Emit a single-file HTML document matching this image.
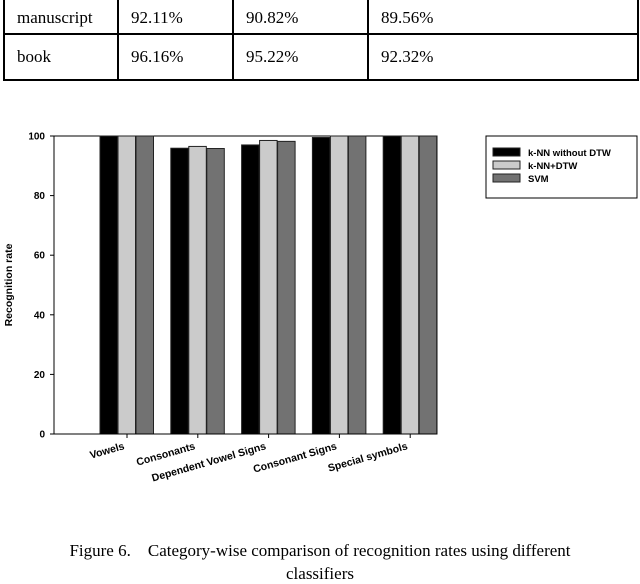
<!DOCTYPE html>
<html><head><meta charset="utf-8"><style>
body{margin:0;width:640px;height:584px;background:#fff;position:relative;overflow:hidden;font-family:"Liberation Serif",serif}
table{position:absolute;left:3px;top:-4px;border-collapse:collapse;font-size:17px}
td{border:2px solid #000;padding:0 0 0 12px;vertical-align:middle}
tr.r1 td{height:31px;padding-top:4px}
tr.r2 td{height:44px}
.cap{position:absolute;left:0;width:640px;text-align:center;font-size:17px}
</style></head><body>
<table>
<tr class="r1"><td style="width:100px">manuscript</td><td style="width:101px">92.11%</td><td style="width:121px">90.82%</td><td style="width:256px">89.56%</td></tr>
<tr class="r2"><td>book</td><td>96.16%</td><td>95.22%</td><td>92.32%</td></tr>
</table>
<svg id="chart" width="640" height="584" style="position:absolute;left:0;top:0" font-family="Liberation Sans, sans-serif" font-weight="bold"></svg>
<div class="cap" style="top:541px">Figure 6.&nbsp;&nbsp;&nbsp; Category-wise comparison of recognition rates using different</div>
<div class="cap" style="top:564px">classifiers</div>
<script>
const categories=["Vowels","Consonants","Dependent Vowel Signs","Consonant Signs","Special symbols"];
const seriesNames=["k-NN without DTW","k-NN+DTW","SVM"];
const knnNoDtw=[100,95.9,97.0,99.5,100];
const knnDtw=[100,96.5,98.5,100,100];
const svm=[100,95.8,98.2,100,100];
const yTicks=[0,20,40,60,80,100];
const colors=["#000","#cbcbcb","#727272"];
const svg=document.getElementById('chart');
const NS='http://www.w3.org/2000/svg';
function mk(t,a,p){const e=document.createElementNS(NS,t);for(const k in a)e.setAttribute(k,a[k]);(p||svg).appendChild(e);return e;}
const L=54,R=437,T=136,B=434;
const y=v=>B-(v/100)*(B-T);
const xc=i=>127+i*70.8;
const plot=mk('rect',{x:L,y:T,width:R-L,height:B-T,fill:'#fff',stroke:'#000','stroke-width':1});


const series=[knnNoDtw,knnDtw,svm];
const offs=[-27,-9,9];
series.forEach((s,si)=>{s.forEach((v,i)=>{
 const r=mk('rect',{x:xc(i)+offs[si],y:y(v),width:17.5,height:B-y(v),fill:colors[si],stroke:'#222','stroke-width':1});
 
 
});});
mk('line',{x1:L,y1:T,x2:L,y2:B,stroke:'#000'});
mk('line',{x1:L,y1:B,x2:R,y2:B,stroke:'#000'});
yTicks.forEach(t=>{
 mk('line',{x1:L-4,y1:y(t),x2:L,y2:y(t),stroke:'#000'});
 const tx=mk('text',{x:L-9,y:y(t)+3.5,'text-anchor':'end','font-size':10});
 tx.textContent=t;
 
 
});
categories.forEach((c,i)=>{
 mk('line',{x1:xc(i),y1:B,x2:xc(i),y2:B+4,stroke:'#000'});
 const tx=mk('text',{x:xc(i)-2,y:B+15,'text-anchor':'end','font-size':10.5,transform:`rotate(-16 ${xc(i)-2} ${B+15})`});
 tx.textContent=c;
 
 
});
const yt=mk('text',{x:12,y:285,'text-anchor':'middle','font-size':10.5,transform:'rotate(-90 12 285)'});
yt.textContent='Recognition rate';


const lg=mk('g',{});


mk('rect',{x:486,y:136,width:151,height:62,fill:'#fff',stroke:'#000'},lg);
seriesNames.forEach((n,i)=>{
 mk('rect',{x:493,y:148+i*13,width:27,height:8,fill:colors[i],stroke:'#222'},lg);
 const tx=mk('text',{x:528,y:156+i*13,'font-size':9.5},lg);
 tx.textContent=n;
 
 
});
</script>
</body></html>
